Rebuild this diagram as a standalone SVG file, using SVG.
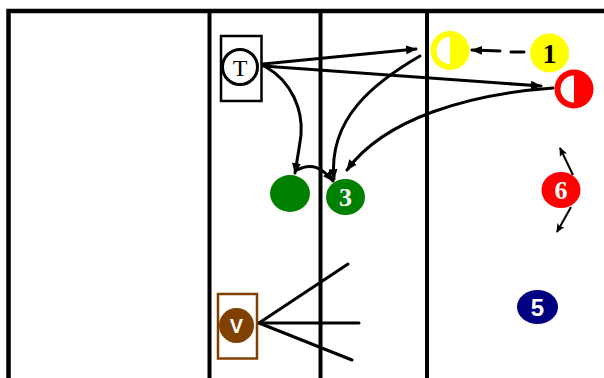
<svg xmlns="http://www.w3.org/2000/svg" width="604" height="378" viewBox="0 0 604 378">
<defs>
<style>
.field{stroke:#000;stroke-width:4.5;fill:none}
.lane{stroke:#000;stroke-width:4;fill:none}
.con{stroke:#000;stroke-width:3;fill:none;stroke-linecap:round}
.thin{stroke:#000;stroke-width:2;fill:none}
.lbl{font-weight:bold;text-anchor:middle;dominant-baseline:central}
.serif{font-family:"Liberation Serif","DejaVu Serif",serif}
.sans{font-family:"Liberation Sans","DejaVu Sans",sans-serif}
</style>
<marker id="ah" markerWidth="11" markerHeight="9" refX="10" refY="4.5" orient="auto" markerUnits="userSpaceOnUse">
<path d="M0,0 L11,4.5 L0,9 Z" fill="#000"/>
</marker>
<marker id="ahs" markerWidth="9" markerHeight="8" refX="8" refY="4" orient="auto" markerUnits="userSpaceOnUse">
<path d="M0,0 L9,4 L0,8 L2,4 Z" fill="#000"/>
</marker>
</defs>
<rect width="604" height="378" fill="#fff"/>
<g id="field">
<path class="field" d="M8.5,378 L8.5,11 L604,11"/>
<line class="lane" x1="209.5" y1="11" x2="209.5" y2="378"/>
<line class="lane" x1="320.5" y1="11" x2="320.5" y2="378"/>
<line class="lane" x1="427" y1="11" x2="427" y2="378"/>
</g>
<g id="connectors">
<line class="con" x1="263" y1="64" x2="416" y2="49" marker-end="url(#ah)"/>
<line class="con" x1="263" y1="66" x2="541" y2="86" stroke-width="3.5" marker-end="url(#ah)"/>
<line class="con" x1="511" y1="52" x2="524" y2="52" stroke-width="3.5"/>
<line class="con" x1="500" y1="51" x2="472" y2="50" stroke-width="3.5" marker-end="url(#ah)"/>
<path class="con" d="M266,67 C292,82 303,110 301,135 C299,150 297,160 295,173" marker-end="url(#ah)"/>
<path class="con" d="M420,56 C375,82 328,118 334,179" marker-end="url(#ah)"/>
<path class="con" d="M553,88 C470,94 385,118 347,170" marker-end="url(#ah)"/>
<path class="con" d="M297,170 C312,162 322,168 333,181" marker-end="url(#ah)"/>
<line class="thin" x1="573" y1="175" x2="560" y2="148" marker-end="url(#ahs)"/>
<line class="thin" x1="571" y1="207" x2="557" y2="232" marker-end="url(#ahs)"/>
<line class="con" x1="259" y1="323" x2="348" y2="264"/>
<line class="con" x1="259" y1="323" x2="359" y2="323"/>
<line class="con" x1="259" y1="323" x2="352" y2="360"/>
</g>
<g id="T">
<rect x="221" y="36" width="40.5" height="65" fill="none" stroke="#000" stroke-width="2.5"/>
<circle cx="240" cy="67" r="17.5" fill="#fff" stroke="#000" stroke-width="3"/>
<text class="serif" x="240" y="68" font-size="24" text-anchor="middle" dominant-baseline="central">T</text>
</g>
<g id="yellow-half">
<circle cx="450" cy="50.5" r="19.5" fill="#ffff00"/>
<path d="M450,37 A13.5,13.5 0 0 0 450,64 Z" fill="#fff"/>
</g>
<g id="p1">
<circle cx="549.5" cy="53" r="19.5" fill="#ffff00"/>
<text class="serif lbl" x="549.5" y="53" font-size="28" fill="#000">1</text>
</g>
<g id="red-half">
<circle cx="574" cy="89" r="19.5" fill="#ff0000"/>
<path d="M574,75.5 A13.5,13.5 0 0 0 574,102.5 Z" fill="#fff"/>
</g>
<g id="green">
<ellipse cx="290" cy="193.5" rx="20" ry="18.5" fill="#008000"/>
</g>
<g id="p3">
<ellipse cx="345.5" cy="197" rx="19.5" ry="18" fill="#008000"/>
<text class="serif lbl" x="345.5" y="197" font-size="26" fill="#fff">3</text>
</g>
<g id="p6">
<ellipse cx="561" cy="190" rx="19.5" ry="18" fill="#ff0000"/>
<text class="serif lbl" x="561" y="190" font-size="26" fill="#fff">6</text>
</g>
<g id="p5">
<ellipse cx="537.5" cy="307" rx="20.5" ry="17" fill="#000080"/>
<text class="sans lbl" x="537.5" y="307" font-size="24" fill="#fff">5</text>
</g>
<g id="V">
<rect x="218" y="294" width="39" height="64.5" fill="none" stroke="#804000" stroke-width="2.5"/>
<circle cx="236.5" cy="325.5" r="17.5" fill="#804000"/>
<text class="sans lbl" x="236.5" y="326" font-size="20" fill="#fff">V</text>
</g>
</svg>
